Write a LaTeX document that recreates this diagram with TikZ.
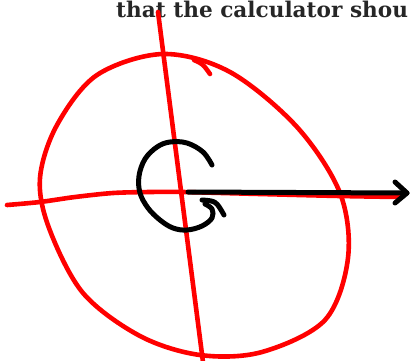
\documentclass[tikz,border=0pt]{standalone}
\usepackage{fontspec}
\newfontfamily\txtfont{DejaVu Serif}
\begin{document}
\begin{tikzpicture}[x=1pt,y=-1pt,
  redline/.style={draw=red,line width=4.6pt,line cap=round,line join=round},
  blackline/.style={draw=black,line width=5pt,line cap=round,line join=round}]
\useasboundingbox (0,0) rectangle (410,360);
\clip (0,0) rectangle (410,360);
% text
\node[anchor=base west,inner sep=0pt,text=black!85] (txt) at (116,17)
  {\txtfont\bfseries\fontsize{21.6}{22}\selectfont that the calculator shou};
% red ellipse
\draw[redline] plot[smooth cycle,tension=0.55] coordinates {
 (163,54) (230,72) (297,127) (340,193) (348,258) (325,320) (262,352)
 (200,355) (140,336) (83,293) (49,228) (40,178) (57,125) (97,75)};
% tick on ellipse
\draw[redline] (194,60) .. controls (203,64) .. (210,74);
% red axes
\coordinate (vtop) at (158,12);
\coordinate (vbot) at (203,362);
\draw[redline] (vtop) -- (vbot);
\draw[redline] plot[smooth,tension=0.5] coordinates {
 (7,205) (40,202) (75,197) (113,193) (150,192) (183,192) (260,194) (340,196) (400,197)};
% black arrow
\coordinate (o) at (188,192);
\coordinate (tip) at (407,193);
\draw[blackline] (o) -- (tip);
\draw[blackline] (395,182) -- (tip) -- (395,203);
% black curl
\draw[blackline] plot[smooth,tension=0.6] coordinates {
 (212,165) (203,152) (187,143) (170,142) (157,147) (145,159) (139,176)
 (140,193) (148,208) (160,220) (173,228) (187,230) (202,226) (212,218)
 (212,209) (205,204)};
\draw[blackline] (202,200) .. controls (216,201) .. (224,215);
\end{tikzpicture}
\end{document}
